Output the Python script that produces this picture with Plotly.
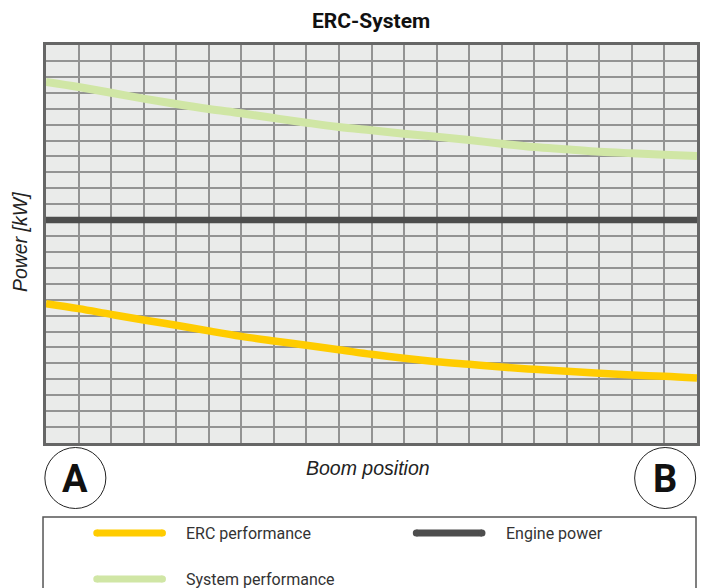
import plotly.graph_objects as go

# boom position goes from A (0) to B (20), power in grid units
boom_pos = [0, 1, 2, 3, 4, 5, 6, 7, 8, 9, 10, 11, 12, 13, 14, 15, 16, 17, 18, 19, 20]
erc_perf = [8.75, 8.44, 8.08, 7.73, 7.40, 7.04, 6.70, 6.41, 6.14, 5.86, 5.57,
            5.32, 5.11, 4.94, 4.77, 4.63, 4.50, 4.38, 4.27, 4.19, 4.08]
system_perf = [22.68, 22.36, 22.00, 21.63, 21.29, 20.98, 20.71, 20.41, 20.12, 19.85, 19.64,
               19.43, 19.24, 19.03, 18.80, 18.59, 18.45, 18.30, 18.20, 18.11, 18.03]
engine_pos = [0, 20]
engine_power = [14, 14]

legend_names = ["ERC performance", "Engine power", "System performance"]

YELLOW = "#ffcc00"
GREEN = "#d0e6a5"
DARK = "#4d4d4d"
NARROW = "Roboto, Liberation Sans, sans-serif"
PLAIN = "Liberation Sans, Arial, sans-serif"

# page body has an 8px margin, so the figure is built 8px smaller
OFF = 8
W, H = 711 - OFF, 588 - OFF
# plot area in page pixels: left 45, right 699, top 44, bottom 442
L, R, T, B = 46, 700, 45, 443


def px(x):
    return (x - L) / (R - L)


def py(y):
    return (B - y) / (B - T)


fig = go.Figure()
fig.add_trace(go.Scatter(x=boom_pos, y=system_perf, mode="lines",
                         line=dict(color=GREEN, width=8, shape="spline"), name=legend_names[2]))
fig.add_trace(go.Scatter(x=engine_pos, y=engine_power, mode="lines",
                         line=dict(color=DARK, width=6.5), name=legend_names[1]))
fig.add_trace(go.Scatter(x=boom_pos, y=erc_perf, mode="lines",
                         line=dict(color=YELLOW, width=7.5, shape="spline"), name=legend_names[0]))

shapes = []
annotations = []


def label(text, x, y, font, **kw):
    annotations.append(dict(text=text, x=px(x), y=py(y), xref="paper", yref="paper",
                            showarrow=False, xanchor=kw.pop("xanchor", "center"),
                            yanchor="middle", font=font, **kw))


# A / B markers
for letter, cx in [("A", 75.5), ("B", 668)]:
    shapes.append(dict(type="circle", xref="paper", yref="paper",
                       xsizemode="pixel", ysizemode="pixel",
                       xanchor=px(cx), yanchor=py(478),
                       x0=-30.5, x1=30.5, y0=-30.5, y1=30.5,
                       line=dict(color="#222", width=1), fillcolor="white"))
    label("<b>%s</b>" % letter, cx, 479, dict(family=NARROW, size=38, color="#111"))

# legend box
shapes.append(dict(type="rect", xref="paper", yref="paper",
                   x0=px(43), x1=px(699), y0=py(517), y1=py(620),
                   line=dict(color="#555", width=1.5)))

legend_items = [(legend_names[0], YELLOW, 97, 533),
                (legend_names[1], DARK, 418, 533),
                (legend_names[2], GREEN, 97, 579)]
for name, col, x0, y in legend_items:
    x1 = x0 + 66
    shapes.append(dict(type="line", xref="paper", yref="paper",
                       x0=px(x0), x1=px(x1), y0=py(y), y1=py(y),
                       line=dict(color=col, width=7)))
    for xe in (x0, x1):
        shapes.append(dict(type="circle", xref="paper", yref="paper",
                           xsizemode="pixel", ysizemode="pixel",
                           xanchor=px(xe), yanchor=py(y),
                           x0=-3.5, x1=3.5, y0=-3.5, y1=3.5,
                           line=dict(width=0), fillcolor=col))
    label(name, x0 + 88, y, dict(family=NARROW, size=16, color="#333"), xanchor="left")

label("<b>ERC-System</b>", 372, 21, dict(family=NARROW, size=21, color="#111"))
label("Boom position", 369, 468, dict(family=PLAIN, size=19.5, color="#222", style="italic"))
label("Power [kW]", 20, 242, dict(family=PLAIN, size=19.5, color="#222", style="italic"),
      textangle=-90)

axis_common = dict(showticklabels=False, ticks="", showgrid=True, gridcolor="#939393",
                   gridwidth=1.5, dtick=1, tick0=0, zeroline=False,
                   showline=True, mirror=True, linecolor="#666", linewidth=2.5)

fig.update_layout(
    width=W, height=H,
    margin=dict(l=L - OFF, r=711 - R, t=T - OFF, b=588 - B),
    paper_bgcolor="white", plot_bgcolor="#eaebea",
    showlegend=False,
    xaxis=dict(range=[0, 20], **axis_common),
    yaxis=dict(range=[0, 25], **axis_common),
    shapes=shapes, annotations=annotations,
)

fig.write_html("out.html")
